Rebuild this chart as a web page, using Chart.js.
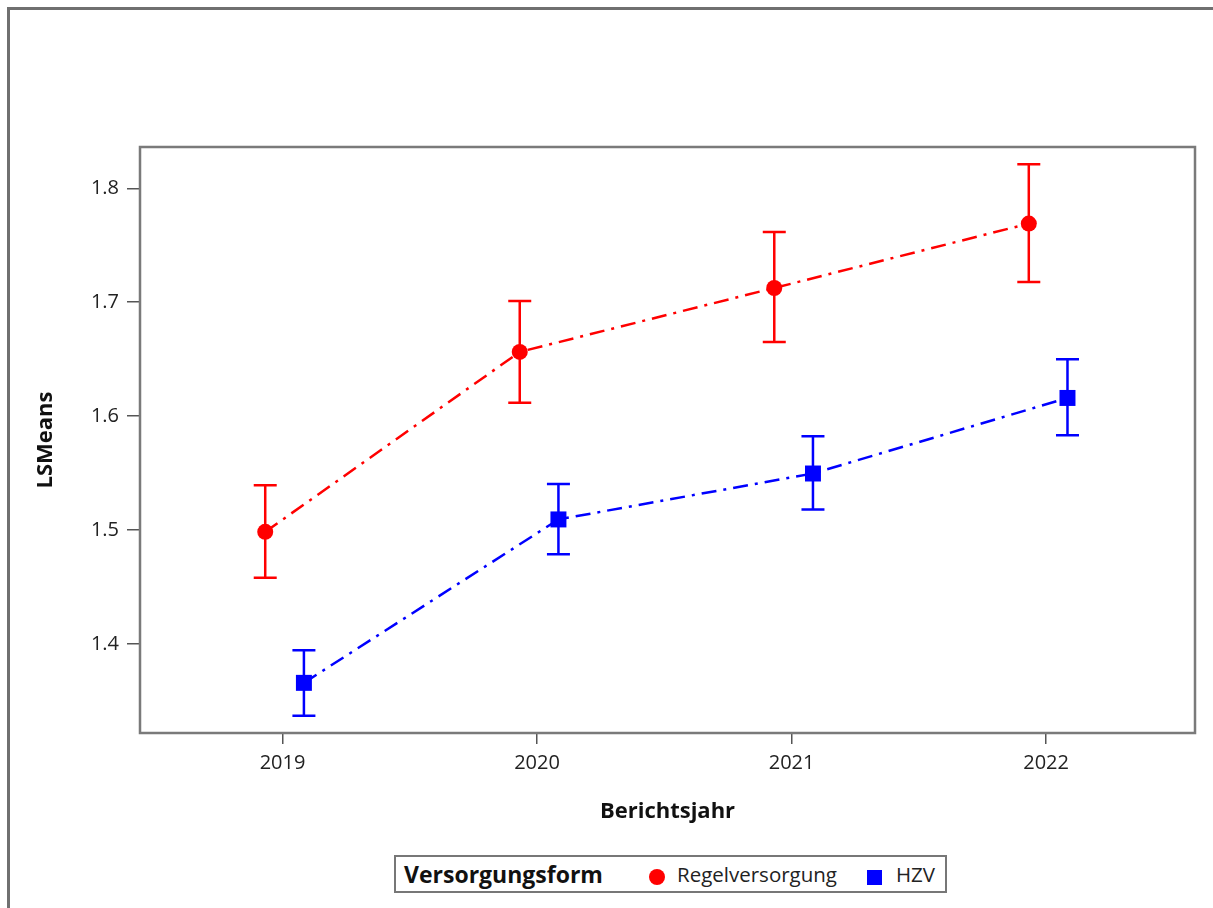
<!DOCTYPE html>
<html>
<head>
<meta charset="utf-8">
<script src="https://cdn.jsdelivr.net/npm/chart.js@4.4.1/dist/chart.umd.min.js"></script>
<style>
  html, body { margin:0; padding:0; width:1213px; height:908px; overflow:hidden; background:#fff; font-family:"Open Sans", sans-serif; }
  #frame { position:absolute; left:7px; top:7px; width:1300px; height:1000px; border-left:3px solid #707070; border-top:3px solid #707070; box-sizing:border-box; }
  #wrap { position:absolute; left:0; top:0; width:1213px; height:908px; }
  #legend { position:absolute; left:394px; top:855px; width:553px; height:38px; border:2px solid #777; box-sizing:border-box; background:#fff; }
  #legend span { position:absolute; top:0; line-height:34px; white-space:nowrap; color:#111; }
  #legend .ttl { left:8px; font-weight:bold; font-size:23px; }
  #legend .lbl { font-size:20.5px; color:#222; }
  #legend .mk { position:absolute; }
</style>
</head>
<body>
<div id="frame"></div>
<div id="wrap"><canvas id="c" width="1213" height="908"></canvas></div>
<div id="legend">
  <span class="ttl">Versorgungsform</span>
  <div class="mk" style="left:253px;top:12px;width:16px;height:16px;border-radius:50%;background:#ff0000;"></div>
  <span class="lbl" style="left:281px;">Regelversorgung</span>
  <div class="mk" style="left:471px;top:13px;width:15px;height:15px;background:#0000ff;"></div>
  <span class="lbl" style="left:500px;">HZV</span>
</div>
<script>
// ---- data ----
const years = [2019, 2020, 2021, 2022];
const seriesNames = ['Regelversorgung', 'HZV'];
const regelMeans = [1.4985, 1.6564, 1.7125, 1.7690];
const regelLower = [1.4582, 1.6117, 1.6652, 1.7178];
const regelUpper = [1.5395, 1.7011, 1.7617, 1.8210];
const hzvMeans   = [1.3660, 1.5094, 1.5497, 1.6160];
const hzvLower   = [1.3371, 1.4789, 1.5182, 1.5833];
const hzvUpper   = [1.3947, 1.5404, 1.5825, 1.6500];
const yTicks = [1.4, 1.5, 1.6, 1.7, 1.8];
const xTitle = 'Berichtsjahr';
const yTitle = 'LSMeans';

// cluster offsets (display only)
const offRegel = -0.068, offHzv = 0.084;

function pts(means, lo, hi, off) {
  return years.map((yr, i) => ({ x: yr + off, y: means[i], lo: lo[i], hi: hi[i] }));
}

const errorBars = {
  id: 'errorBars',
  beforeDatasetsDraw(chart) {
    const ctx = chart.ctx;
    const xs = chart.scales.x, ys = chart.scales.y;
    chart.data.datasets.forEach((ds) => {
      ctx.save();
      ctx.strokeStyle = ds.borderColor;
      ctx.lineWidth = 2.5;
      ds.data.forEach(p => {
        const x = xs.getPixelForValue(p.x);
        const yl = ys.getPixelForValue(p.lo);
        const yh = ys.getPixelForValue(p.hi);
        ctx.beginPath();
        ctx.moveTo(x, yl); ctx.lineTo(x, yh);
        ctx.moveTo(x - 11.5, yl); ctx.lineTo(x + 11.5, yl);
        ctx.moveTo(x - 11.5, yh); ctx.lineTo(x + 11.5, yh);
        ctx.stroke();
      });
      ctx.restore();
    });
  }
};

const frame = {
  id: 'frame',
  afterDraw(chart) {
    const a = chart.chartArea, ctx = chart.ctx;
    ctx.save();
    ctx.strokeStyle = '#7a7a7a';
    ctx.lineWidth = 2.5;
    ctx.strokeRect(a.left, a.top, a.right - a.left, a.bottom - a.top);
    ctx.restore();
  }
};

new Chart(document.getElementById('c'), {
  type: 'line',
  data: {
    datasets: [
      {
        label: seriesNames[0],
        data: pts(regelMeans, regelLower, regelUpper, offRegel),
        borderColor: '#ff0000', backgroundColor: '#ff0000',
        borderWidth: 2.5, borderDash: [15, 7, 3, 7],
        pointStyle: 'circle', pointRadius: 8, pointBorderWidth: 0,
        pointBackgroundColor: '#ff0000', tension: 0
      },
      {
        label: seriesNames[1],
        data: pts(hzvMeans, hzvLower, hzvUpper, offHzv),
        borderColor: '#0000ff', backgroundColor: '#0000ff',
        borderWidth: 2.5, borderDash: [15, 7, 3, 7],
        pointStyle: 'rect', pointRadius: 11.3, pointBorderWidth: 0,
        pointBackgroundColor: '#0000ff', tension: 0
      }
    ]
  },
  options: {
    responsive: false,
    animation: false,
    devicePixelRatio: 1,
    layout: { padding: { left: 30, top: 147, right: 18, bottom: 75 } },
    plugins: { legend: { display: false }, tooltip: { enabled: false } },
    scales: {
      x: {
        type: 'linear', min: 2018.44, max: 2022.585,
        afterBuildTicks: s => { s.ticks = years.map(v => ({ value: v })); },
        afterFit: s => { s.height = 100; },
        ticks: { callback: v => String(v), color: '#222', font: { family: 'Open Sans', size: 20 }, padding: 7, maxRotation: 0 },
        grid: { drawOnChartArea: false, drawTicks: true, tickLength: 11, color: '#555', lineWidth: 1.5 },
        border: { display: false },
        title: { display: true, text: xTitle, color: '#111', font: { family: 'Open Sans', size: 22, weight: 'bold' }, padding: { top: 0, bottom: 8 } }
      },
      y: {
        type: 'linear', min: 1.322, max: 1.8362,
        afterBuildTicks: s => { s.ticks = yTicks.map(v => ({ value: v })); },
        afterFit: s => { s.width = 110; },
        ticks: { callback: v => v.toFixed(1), color: '#222', font: { family: 'Open Sans', size: 20 }, padding: 8 },
        grid: { drawOnChartArea: false, drawTicks: true, tickLength: 13, color: '#555', lineWidth: 1.5 },
        border: { display: false },
        title: { display: true, text: yTitle, color: '#111', font: { family: 'Open Sans', size: 22, weight: 'bold' }, padding: { top: 3, bottom: 0 } }
      }
    }
  },
  plugins: [errorBars, frame]
});
</script>
</body>
</html>
